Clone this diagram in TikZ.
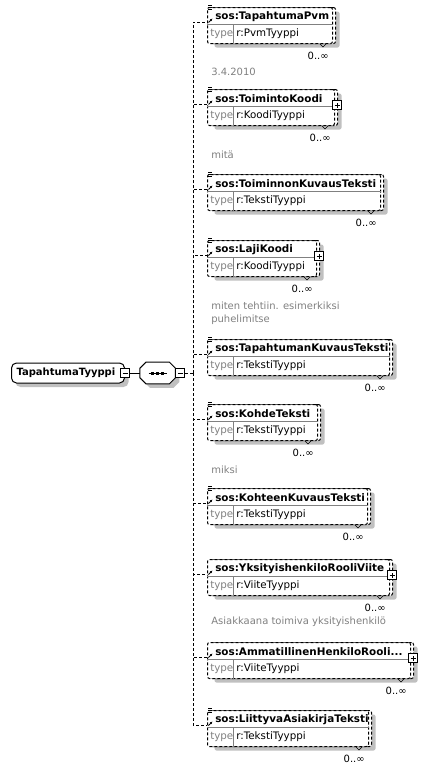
\documentclass[tikz,border=0pt]{standalone}
\usepackage{fontspec}
\setmainfont{DejaVu Sans}
\usetikzlibrary{arrows.meta,positioning,shadows}
\definecolor{xsgray}{RGB}{128,128,128}
\definecolor{xsshadow}{RGB}{192,192,192}
\tikzstyle{conn} = [line width=1pt, dash pattern=on 3pt off 2pt]
\tikzstyle{xsshade} = [drop shadow={shadow xshift=4pt, shadow yshift=-4pt, fill=xsshadow, opacity=1}]
\tikzstyle{elembox} = [rectangle, rounded corners=2pt, draw, conn, fill=white, minimum height=36, inner sep=0pt, anchor=north west]
\tikzstyle{stackbox} = [elembox, xsshade]
\tikzstyle{rootbox} = [rectangle, rounded corners=5pt, draw, line width=1pt, fill=white, xsshade, minimum height=20, text width=103pt, inner xsep=5pt, inner ysep=0pt, font=\bfseries, anchor=west]
\tikzstyle{seqbox} = [rectangle, minimum width=35, minimum height=21, inner sep=0pt]
\tikzstyle{minusbox} = [rectangle, draw, line width=0.7pt, fill=white, minimum size=9, inner sep=0pt, path picture={\draw[line width=0.7pt] ([xshift=-2.5pt]path picture bounding box.center) -- ([xshift=2.5pt]path picture bounding box.center);}]
\tikzstyle{plusbox} = [minusbox, path picture={\draw[line width=0.7pt] ([xshift=-2.5pt]path picture bounding box.center) -- ([xshift=2.5pt]path picture bounding box.center) ([yshift=-2.5pt]path picture bounding box.center) -- ([yshift=2.5pt]path picture bounding box.center);}]
\tikzstyle{elemname} = [font=\fontsize{10.4}{13}\selectfont\bfseries, inner sep=0pt, anchor=west]
\tikzstyle{typename} = [font=\fontsize{10.3}{12}\selectfont, inner sep=0pt, anchor=west]
\tikzstyle{note} = [text=xsgray, inner sep=0pt, anchor=west]
\tikzstyle{occurs} = [inner sep=0pt, anchor=east]

% one element box: name, top, outer width, label, type
\newcommand{\xselem}[5]{%
  \node[stackbox, minimum width={#3-3}] (#1-back) at (210,#2) {};
  \node[elembox, minimum width={#3-3}] (#1) at (207,#2) {};
  \draw[xsgray] ([yshift=-17pt]#1.north west) -- ([yshift=-17pt]#1.north east);
  \draw[xsgray] ([xshift=26pt,yshift=-17pt]#1.north west) -- ([xshift=26pt]#1.south west);
  \node[elemname] (#1-name) at ([xshift=8pt,yshift=-10pt]#1.north west) {#4};
  \node[typename, text=xsgray] (#1-key) at ([xshift=3pt,yshift=-27pt]#1.north west) {type};
  \node[typename] (#1-type) at ([xshift=29pt,yshift=-27pt]#1.north west) {#5};
  \node[occurs] (#1-occ) at ([xshift=-7pt,yshift=-12pt]#1-back.south east) {0..∞};
  \draw ([xshift=-16pt]#1-back.south east) -- ++(3pt,-3pt) -- ++(3pt,3pt);
  \draw[-{Latex[length=2.5pt,width=2.5pt]}, line width=0.9pt] ([xshift=1.5pt,yshift=-15.5pt]#1.north west) -- ++(4pt,4pt);
}
% documentation mark
\newcommand{\xsdoc}[1]{%
  \foreach \k in {0,2,4} \draw[line width=0.5pt] ([xshift=1pt,yshift={2pt-\k pt}]#1.north west) -- ++(4pt,0);
}

\begin{document}
\begin{tikzpicture}[x=1pt, y=-1pt, line width=0.6pt]
\useasboundingbox (0,0) rectangle (427,771);
% Complex type and sequence
\node[rootbox] (root) at (11,373) {TapahtumaTyyppi};
\node[minusbox] (rootminus) at (root.east) {};
\node[seqbox, right=10pt of rootminus] (seq) {};
\draw[line width=1pt, fill=white, xsshade] ([xshift=6pt]seq.north west) -- ([xshift=-6pt]seq.north east)
  -- ([yshift=-6pt]seq.north east) -- ([yshift=6pt]seq.south east) -- ([xshift=-6pt]seq.south east)
  -- ([xshift=6pt]seq.south west) -- ([yshift=6pt]seq.south west) -- ([yshift=-6pt]seq.north west) -- cycle;
\node[minusbox, anchor=west] (seqminus) at (seq.east) {};
\draw[line width=0.8pt] (rootminus) -- (seq);
\draw[line width=0.8pt] ([xshift=-9pt]seq.center) -- ([xshift=9pt]seq.center);
\foreach \d in {-5,0,5} \fill ([xshift=\d pt]seq.center) ++(-1.5pt,-1.5pt) rectangle ++(3pt,3pt);
\coordinate (bus) at (193,373);
\draw[conn] (seqminus) -- (bus);

% Elements
\xselem{pvm}{7}{128}{sos:TapahtumaPvm}{r:PvmTyyppi}
\xsdoc{pvm}
\xselem{toim}{89}{130}{sos:ToimintoKoodi}{r:KoodiTyyppi}
\xsdoc{toim}
\node[plusbox] (toim-plus) at ([xshift=-1pt,yshift=-16pt]toim-back.north east) {};
\xselem{kuv}{174}{176}{sos:ToiminnonKuvausTeksti}{r:TekstiTyyppi}
\xsdoc{kuv}
\xselem{laji}{240}{112}{sos:LajiKoodi}{r:KoodiTyyppi}
\xsdoc{laji}
\node[plusbox] (laji-plus) at ([xshift=-1pt,yshift=-16pt]laji-back.north east) {};
\xselem{tapkuv}{339}{185}{sos:TapahtumanKuvausTeksti}{r:TekstiTyyppi}
\xsdoc{tapkuv}
\xselem{kohde}{404}{113}{sos:KohdeTeksti}{r:TekstiTyyppi}
\xsdoc{kohde}
\xselem{kohkuv}{488}{163}{sos:KohteenKuvausTeksti}{r:TekstiTyyppi}
\xsdoc{kohkuv}
\xselem{yks}{559}{185}{sos:YksityishenkiloRooliViite}{r:ViiteTyyppi}
\node[plusbox] (yks-plus) at ([xshift=-1pt,yshift=-16pt]yks-back.north east) {};
\xselem{amm}{642}{206}{sos:AmmatillinenHenkiloRooli...}{r:ViiteTyyppi}
\node[plusbox] (amm-plus) at ([xshift=-1pt,yshift=-16pt]amm-back.north east) {};
\xselem{liit}{710}{164}{sos:LiittyvaAsiakirjaTeksti}{r:TekstiTyyppi}
\xsdoc{liit}

% Connectors
\foreach \n in {pvm,toim,kuv,laji,tapkuv,kohde,kohkuv,yks,amm,liit}
  \draw[conn] (bus) |- ([yshift=-15pt]\n.north west);

% Annotations
\node[note] (pvm-note) at (211,72) {3.4.2010};
\node[note] (toim-note) at (211,155) {mitä};
\node[note] (laji-note) at (211,306) {miten tehtiin. esimerkiksi};
\node[note] (laji-note2) at (211,320) {puhelimitse};
\node[note] (kohde-note) at (211,470) {miksi};
\node[note] (yks-note) at (211,622) {Asiakkaana toimiva yksityishenkilö};
\end{tikzpicture}
\end{document}
